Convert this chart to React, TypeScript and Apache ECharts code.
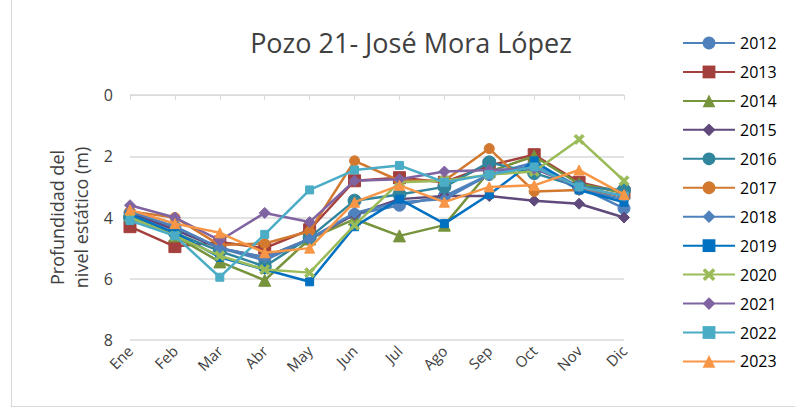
import React, { useEffect, useRef } from "react";
import * as echarts from "echarts";

const months = ["Ene", "Feb", "Mar", "Abr", "May", "Jun", "Jul", "Ago", "Sep", "Oct", "Nov", "Dic"];
const years = ["2012", "2013", "2014", "2015", "2016", "2017", "2018", "2019", "2020", "2021", "2022", "2023"];

const y2012 = [3.85, 4.3, 5.0, 5.4, 4.7, 3.9, 3.6, 3.3, 2.6, 2.2, 3.0, 3.7];
const y2013 = [4.3, 4.95, 4.8, 5.0, 4.4, 2.8, 2.7, 2.85, 2.3, 1.95, 2.85, 3.2];
const y2014 = [3.95, 4.6, 5.45, 6.05, 4.7, 4.05, 4.6, 4.25, 2.5, 2.0, 2.9, 3.2];
const y2015 = [3.85, 4.4, 5.0, 5.3, 4.7, 3.9, 3.4, 3.3, 3.3, 3.45, 3.55, 4.0];
const y2016 = [4.0, 4.5, 5.1, 5.6, 4.65, 3.45, 3.25, 3.0, 2.2, 2.55, 3.0, 3.1];
const y2017 = [3.8, 4.0, 4.9, 4.85, 4.45, 2.15, 2.8, 2.8, 1.75, 3.15, 3.1, 3.3];
const y2018 = [3.8, 4.3, 5.0, 5.3, 4.7, 3.85, 3.5, 3.4, 2.6, 2.3, 3.1, 3.4];
const y2019 = [3.9, 4.5, 5.3, 5.7, 6.1, 4.3, 3.4, 4.2, 3.25, 2.15, 3.1, 3.5];
const y2020 = [4.0, 4.6, 5.25, 5.7, 5.8, 4.25, 2.85, 2.8, 2.6, 2.5, 1.45, 2.8];
const y2021 = [3.6, 4.0, 4.75, 3.85, 4.15, 2.8, 2.75, 2.5, 2.45, 2.4, 3.0, 3.3];
const y2022 = [4.1, 4.6, 5.95, 4.55, 3.1, 2.45, 2.3, 2.85, 2.6, 2.35, 3.0, 3.3];
const y2023 = [3.75, 4.2, 4.5, 5.15, 5.0, 3.5, 2.95, 3.5, 3.0, 2.95, 2.45, 3.25];

const yTicks = [0, 2, 4, 6, 8];

const X_PATH = "path://M0,2 L2,0 L5,3 L8,0 L10,2 L7,5 L10,8 L8,10 L5,7 L2,10 L0,8 L3,5 Z";

const seriesDefs = [
  { data: y2012, color: "#4F81BD", symbol: "circle", size: 12 },
  { data: y2013, color: "#A33F3C", symbol: "rect", size: 12 },
  { data: y2014, color: "#77933C", symbol: "triangle", size: 12 },
  { data: y2015, color: "#604A7B", symbol: "diamond", size: 11 },
  { data: y2016, color: "#31859C", symbol: "circle", size: 13 },
  { data: y2017, color: "#D2782F", symbol: "circle", size: 10 },
  { data: y2018, color: "#4F81BD", symbol: "diamond", size: 11 },
  { data: y2019, color: "#0070C0", symbol: "rect", size: 8 },
  { data: y2020, color: "#9BBB59", symbol: X_PATH, size: 10 },
  { data: y2021, color: "#8064A2", symbol: "diamond", size: 11 },
  { data: y2022, color: "#4BACC6", symbol: "rect", size: 8 },
  { data: y2023, color: "#F79646", symbol: "triangle", size: 10 },
];

export default function App() {
  const ref = useRef<HTMLDivElement>(null);
  useEffect(() => {
    document.body.style.margin = "0";
    if (!ref.current) return;
    const chart = echarts.init(ref.current, null, { renderer: "svg" });
    const font = "'Open Sans', 'Noto Sans', sans-serif";
    chart.setOption({
      animation: false,
      backgroundColor: "#ffffff",
      textStyle: { fontFamily: font },
      title: {
        text: "Pozo 21- José Mora López",
        left: 406,
        top: 24,
        textAlign: "center",
        textStyle: { fontFamily: font, fontSize: 27, fontWeight: "normal", color: "#404040" },
      },
      legend: {
        orient: "vertical",
        left: 677,
        top: 30,
        itemWidth: 52,
        itemHeight: 16,
        itemGap: 12.95,
        data: years,
        textStyle: { fontFamily: font, fontSize: 16, color: "#000000" },
      },
      grid: { left: 130, right: 171, top: 95, bottom: 70 },
      xAxis: {
        type: "category",
        data: months,
        boundaryGap: false,
        axisLine: { lineStyle: { color: "#D9D9D9", width: 1 } },
        axisTick: { show: true, length: 5, lineStyle: { color: "#D9D9D9" } },
        axisLabel: { rotate: 45, fontSize: 15, color: "#404040", margin: 8, fontFamily: font },
      },
      yAxis: {
        type: "value",
        inverse: true,
        min: 0,
        max: 8,
        interval: 2,
        name: "Profundidad del\nnivel estático (m)",
        nameLocation: "middle",
        nameGap: 36,
        nameTextStyle: { fontSize: 18, color: "#404040", lineHeight: 24, fontFamily: font },
        axisLine: { show: false },
        axisTick: { show: false },
        axisLabel: {
          fontSize: 16,
          color: "#404040",
          margin: 17,
          fontFamily: font,
          formatter: (v: number) => (yTicks.includes(v) ? String(v) : ""),
        },
        splitLine: { lineStyle: { color: "#D9D9D9", width: 1.5 } },
      },
      graphic: [
        { type: "line", shape: { x1: 11.5, y1: 0, x2: 11.5, y2: 406 }, style: { stroke: "#D9D9D9", lineWidth: 1 } },
        { type: "line", shape: { x1: 11, y1: 406.5, x2: 795, y2: 406.5 }, style: { stroke: "#D9D9D9", lineWidth: 1 } },
      ],
      series: seriesDefs.map((s, i) => ({
        name: years[i],
        type: "line",
        data: s.data,
        symbol: s.symbol,
        symbolSize: s.size,
        showAllSymbol: true,
        lineStyle: { color: s.color, width: 2.5 },
        itemStyle: { color: s.color, borderColor: s.color },
        z: 2 + i,
      })),
    });
    return () => chart.dispose();
  }, []);
  return <div ref={ref} style={{ width: 795, height: 410 }} />;
}
